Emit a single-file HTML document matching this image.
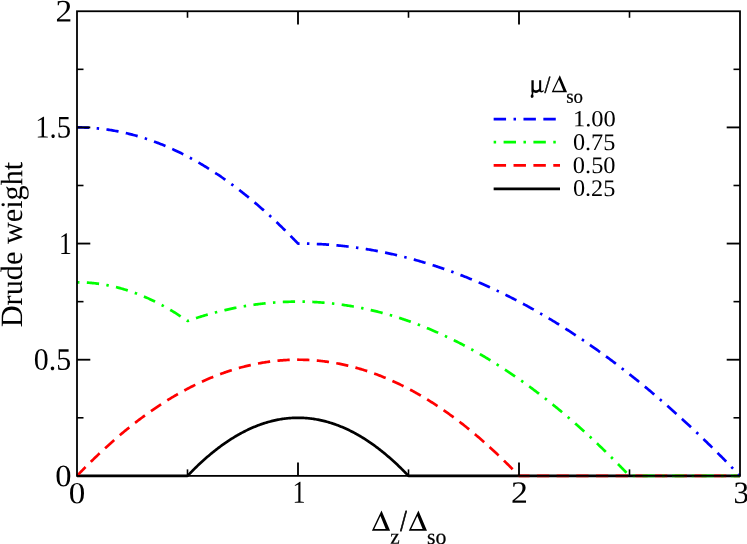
<!DOCTYPE html>
<html><head><meta charset="utf-8"><title>Drude weight</title>
<style>
html,body{margin:0;padding:0;background:#fff;}
body{width:747px;height:544px;overflow:hidden;}
svg{display:block;will-change:transform;}
text{font-family:"Liberation Serif",serif;fill:#000;font-kerning:none;}
</style></head><body>
<svg width="747" height="544" viewBox="0 0 747 544">
<rect x="0" y="0" width="747" height="544" fill="#ffffff"/>

<g fill="none" stroke-width="2.70" stroke-linejoin="round" stroke-linecap="butt">
<path d="M77.00,475.88 L78.11,475.88 L79.21,475.88 L80.31,475.88 L81.42,475.88 L82.53,475.88 L83.63,475.88 L84.73,475.88 L85.84,475.88 L86.94,475.88 L88.05,475.88 L89.16,475.88 L90.26,475.88 L91.36,475.88 L92.47,475.88 L93.58,475.88 L94.68,475.88 L95.78,475.88 L96.89,475.88 L98.00,475.88 L99.10,475.88 L100.20,475.88 L101.31,475.88 L102.42,475.88 L103.52,475.88 L104.62,475.88 L105.73,475.88 L106.84,475.88 L107.94,475.88 L109.04,475.88 L110.15,475.88 L111.25,475.88 L112.36,475.88 L113.47,475.88 L114.57,475.88 L115.68,475.88 L116.78,475.88 L117.88,475.88 L118.99,475.88 L120.09,475.88 L121.20,475.88 L122.31,475.88 L123.41,475.88 L124.51,475.88 L125.62,475.88 L126.72,475.88 L127.83,475.88 L128.94,475.88 L130.04,475.88 L131.15,475.88 L132.25,475.88 L133.35,475.88 L134.46,475.88 L135.56,475.88 L136.67,475.88 L137.78,475.88 L138.88,475.88 L139.99,475.88 L141.09,475.88 L142.19,475.88 L143.30,475.88 L144.41,475.88 L145.51,475.88 L146.62,475.88 L147.72,475.88 L148.82,475.88 L149.93,475.88 L151.04,475.88 L152.14,475.88 L153.25,475.88 L154.35,475.88 L155.45,475.88 L156.56,475.88 L157.67,475.88 L158.77,475.88 L159.88,475.88 L160.98,475.88 L162.08,475.88 L163.19,475.88 L164.30,475.88 L165.40,475.88 L166.50,475.88 L167.61,475.88 L168.72,475.88 L169.82,475.88 L170.93,475.88 L172.03,475.88 L173.13,475.88 L174.24,475.88 L175.35,475.88 L176.45,475.88 L177.56,475.88 L178.66,475.88 L179.76,475.88 L180.87,475.88 L181.98,475.88 L183.08,475.88 L184.19,475.88 L185.29,475.88 L186.39,475.88 L187.50,475.88 L188.61,474.72 L189.71,473.58 L190.81,472.45 L191.92,471.33 L193.02,470.22 L194.13,469.12 L195.24,468.03 L196.34,466.96 L197.44,465.90 L198.55,464.85 L199.66,463.81 L200.76,462.78 L201.87,461.76 L202.97,460.76 L204.07,459.76 L205.18,458.78 L206.28,457.81 L207.39,456.85 L208.49,455.91 L209.60,454.97 L210.71,454.05 L211.81,453.14 L212.91,452.24 L214.02,451.35 L215.12,450.47 L216.23,449.61 L217.34,448.75 L218.44,447.91 L219.54,447.08 L220.65,446.26 L221.76,445.45 L222.86,444.66 L223.97,443.87 L225.07,443.10 L226.18,442.34 L227.28,441.59 L228.39,440.85 L229.49,440.13 L230.59,439.41 L231.70,438.71 L232.80,438.02 L233.91,437.34 L235.01,436.67 L236.12,436.01 L237.22,435.37 L238.33,434.74 L239.44,434.12 L240.54,433.51 L241.65,432.91 L242.75,432.32 L243.85,431.75 L244.96,431.18 L246.06,430.63 L247.17,430.09 L248.28,429.56 L249.38,429.05 L250.49,428.54 L251.59,428.05 L252.70,427.56 L253.80,427.09 L254.91,426.64 L256.01,426.19 L257.12,425.75 L258.22,425.33 L259.33,424.92 L260.43,424.52 L261.53,424.13 L262.64,423.75 L263.75,423.38 L264.85,423.03 L265.96,422.69 L267.06,422.35 L268.16,422.04 L269.27,421.73 L270.38,421.43 L271.48,421.15 L272.59,420.87 L273.69,420.61 L274.79,420.36 L275.90,420.12 L277.00,419.90 L278.11,419.68 L279.22,419.48 L280.32,419.29 L281.42,419.11 L282.53,418.94 L283.63,418.78 L284.74,418.64 L285.85,418.50 L286.95,418.38 L288.06,418.27 L289.16,418.17 L290.26,418.09 L291.37,418.01 L292.48,417.95 L293.58,417.89 L294.68,417.85 L295.79,417.82 L296.89,417.81 L298.00,417.80 L299.11,417.81 L300.21,417.82 L301.32,417.85 L302.42,417.89 L303.52,417.95 L304.63,418.01 L305.74,418.09 L306.84,418.17 L307.94,418.27 L309.05,418.38 L310.15,418.50 L311.26,418.64 L312.37,418.78 L313.47,418.94 L314.58,419.11 L315.68,419.29 L316.78,419.48 L317.89,419.68 L319.00,419.90 L320.10,420.12 L321.21,420.36 L322.31,420.61 L323.41,420.87 L324.52,421.15 L325.62,421.43 L326.73,421.73 L327.84,422.04 L328.94,422.35 L330.04,422.69 L331.15,423.03 L332.25,423.38 L333.36,423.75 L334.46,424.13 L335.57,424.52 L336.68,424.92 L337.78,425.33 L338.89,425.75 L339.99,426.19 L341.10,426.64 L342.20,427.09 L343.31,427.56 L344.41,428.05 L345.52,428.54 L346.62,429.05 L347.73,429.56 L348.83,430.09 L349.94,430.63 L351.04,431.18 L352.15,431.75 L353.25,432.32 L354.36,432.91 L355.46,433.51 L356.56,434.12 L357.67,434.74 L358.78,435.37 L359.88,436.01 L360.98,436.67 L362.09,437.34 L363.19,438.02 L364.30,438.71 L365.40,439.41 L366.51,440.13 L367.61,440.85 L368.72,441.59 L369.82,442.34 L370.93,443.10 L372.04,443.87 L373.14,444.66 L374.25,445.45 L375.35,446.26 L376.45,447.08 L377.56,447.91 L378.67,448.75 L379.77,449.61 L380.88,450.47 L381.98,451.35 L383.08,452.24 L384.19,453.14 L385.30,454.05 L386.40,454.97 L387.50,455.91 L388.61,456.85 L389.71,457.81 L390.82,458.78 L391.93,459.76 L393.03,460.76 L394.14,461.76 L395.24,462.78 L396.35,463.81 L397.45,464.85 L398.56,465.90 L399.66,466.96 L400.77,468.03 L401.87,469.12 L402.98,470.22 L404.08,471.33 L405.19,472.45 L406.29,473.58 L407.40,474.72 L408.50,475.88 L409.61,475.88 L410.71,475.88 L411.81,475.88 L412.92,475.88 L414.03,475.88 L415.13,475.88 L416.24,475.88 L417.34,475.88 L418.44,475.88 L419.55,475.88 L420.65,475.88 L421.76,475.88 L422.87,475.88 L423.97,475.88 L425.07,475.88 L426.18,475.88 L427.29,475.88 L428.39,475.88 L429.49,475.88 L430.60,475.88 L431.70,475.88 L432.81,475.88 L433.91,475.88 L435.02,475.88 L436.12,475.88 L437.23,475.88 L438.34,475.88 L439.44,475.88 L440.55,475.88 L441.65,475.88 L442.76,475.88 L443.86,475.88 L444.96,475.88 L446.07,475.88 L447.18,475.88 L448.28,475.88 L449.38,475.88 L450.49,475.88 L451.60,475.88 L452.70,475.88 L453.81,475.88 L454.91,475.88 L456.02,475.88 L457.12,475.88 L458.22,475.88 L459.33,475.88 L460.44,475.88 L461.54,475.88 L462.65,475.88 L463.75,475.88 L464.86,475.88 L465.96,475.88 L467.07,475.88 L468.17,475.88 L469.28,475.88 L470.38,475.88 L471.49,475.88 L472.59,475.88 L473.69,475.88 L474.80,475.88 L475.90,475.88 L477.01,475.88 L478.12,475.88 L479.22,475.88 L480.32,475.88 L481.43,475.88 L482.54,475.88 L483.64,475.88 L484.74,475.88 L485.85,475.88 L486.95,475.88 L488.06,475.88 L489.16,475.88 L490.27,475.88 L491.38,475.88 L492.48,475.88 L493.59,475.88 L494.69,475.88 L495.80,475.88 L496.90,475.88 L498.01,475.88 L499.11,475.88 L500.21,475.88 L501.32,475.88 L502.43,475.88 L503.53,475.88 L504.63,475.88 L505.74,475.88 L506.85,475.88 L507.95,475.88 L509.06,475.88 L510.16,475.88 L511.27,475.88 L512.37,475.88 L513.47,475.88 L514.58,475.88 L515.68,475.88 L516.79,475.88 L517.89,475.88 L519.00,475.88 L520.11,475.88 L521.21,475.88 L522.32,475.88 L523.42,475.88 L524.53,475.88 L525.63,475.88 L526.74,475.88 L527.84,475.88 L528.94,475.88 L530.05,475.88 L531.15,475.88 L532.26,475.88 L533.37,475.88 L534.47,475.88 L535.58,475.88 L536.68,475.88 L537.79,475.88 L538.89,475.88 L540.00,475.88 L541.10,475.88 L542.20,475.88 L543.31,475.88 L544.41,475.88 L545.52,475.88 L546.62,475.88 L547.73,475.88 L548.84,475.88 L549.94,475.88 L551.05,475.88 L552.15,475.88 L553.26,475.88 L554.36,475.88 L555.46,475.88 L556.57,475.88 L557.67,475.88 L558.78,475.88 L559.88,475.88 L560.99,475.88 L562.10,475.88 L563.20,475.88 L564.31,475.88 L565.41,475.88 L566.51,475.88 L567.62,475.88 L568.72,475.88 L569.83,475.88 L570.93,475.88 L572.04,475.88 L573.14,475.88 L574.25,475.88 L575.36,475.88 L576.46,475.88 L577.57,475.88 L578.67,475.88 L579.78,475.88 L580.88,475.88 L581.99,475.88 L583.09,475.88 L584.19,475.88 L585.30,475.88 L586.40,475.88 L587.51,475.88 L588.62,475.88 L589.72,475.88 L590.83,475.88 L591.93,475.88 L593.03,475.88 L594.14,475.88 L595.25,475.88 L596.35,475.88 L597.46,475.88 L598.56,475.88 L599.67,475.88 L600.77,475.88 L601.88,475.88 L602.98,475.88 L604.09,475.88 L605.19,475.88 L606.29,475.88 L607.40,475.88 L608.50,475.88 L609.61,475.88 L610.72,475.88 L611.82,475.88 L612.93,475.88 L614.03,475.88 L615.13,475.88 L616.24,475.88 L617.34,475.88 L618.45,475.88 L619.55,475.88 L620.66,475.88 L621.76,475.88 L622.87,475.88 L623.98,475.88 L625.08,475.88 L626.18,475.88 L627.29,475.88 L628.40,475.88 L629.50,475.88 L630.60,475.88 L631.71,475.88 L632.82,475.88 L633.92,475.88 L635.02,475.88 L636.13,475.88 L637.24,475.88 L638.34,475.88 L639.45,475.88 L640.55,475.88 L641.66,475.88 L642.76,475.88 L643.87,475.88 L644.97,475.88 L646.08,475.88 L647.18,475.88 L648.28,475.88 L649.39,475.88 L650.50,475.88 L651.60,475.88 L652.71,475.88 L653.81,475.88 L654.92,475.88 L656.02,475.88 L657.12,475.88 L658.23,475.88 L659.34,475.88 L660.44,475.88 L661.54,475.88 L662.65,475.88 L663.75,475.88 L664.86,475.88 L665.97,475.88 L667.07,475.88 L668.18,475.88 L669.28,475.88 L670.38,475.88 L671.49,475.88 L672.59,475.88 L673.70,475.88 L674.80,475.88 L675.91,475.88 L677.01,475.88 L678.12,475.88 L679.23,475.88 L680.33,475.88 L681.43,475.88 L682.54,475.88 L683.65,475.88 L684.75,475.88 L685.85,475.88 L686.96,475.88 L688.07,475.88 L689.17,475.88 L690.27,475.88 L691.38,475.88 L692.49,475.88 L693.59,475.88 L694.70,475.88 L695.80,475.88 L696.91,475.88 L698.01,475.88 L699.12,475.88 L700.22,475.88 L701.33,475.88 L702.43,475.88 L703.53,475.88 L704.64,475.88 L705.75,475.88 L706.85,475.88 L707.96,475.88 L709.06,475.88 L710.17,475.88 L711.27,475.88 L712.38,475.88 L713.48,475.88 L714.59,475.88 L715.69,475.88 L716.79,475.88 L717.90,475.88 L719.00,475.88 L720.11,475.88 L721.22,475.88 L722.32,475.88 L723.43,475.88 L724.53,475.88 L725.63,475.88 L726.74,475.88 L727.84,475.88 L728.95,475.88 L730.05,475.88 L731.16,475.88 L732.26,475.88 L733.37,475.88 L734.48,475.88 L735.58,475.88 L736.68,475.88 L737.79,475.88 L738.90,475.88 L740.00,475.88" stroke="#000000"/>
<path d="M77.00,475.88 L78.11,474.72 L79.21,473.57 L80.31,472.42 L81.42,471.28 L82.53,470.14 L83.63,469.02 L84.73,467.89 L85.84,466.77 L86.94,465.66 L88.05,464.55 L89.16,463.45 L90.26,462.36 L91.36,461.27 L92.47,460.19 L93.58,459.11 L94.68,458.04 L95.78,456.97 L96.89,455.91 L98.00,454.86 L99.10,453.81 L100.20,452.77 L101.31,451.73 L102.42,450.70 L103.52,449.67 L104.62,448.66 L105.73,447.64 L106.84,446.63 L107.94,445.63 L109.04,444.64 L110.15,443.65 L111.25,442.66 L112.36,441.68 L113.47,440.71 L114.57,439.74 L115.68,438.78 L116.78,437.83 L117.88,436.88 L118.99,435.93 L120.09,435.00 L121.20,434.06 L122.31,433.14 L123.41,432.22 L124.51,431.30 L125.62,430.39 L126.72,429.49 L127.83,428.59 L128.94,427.70 L130.04,426.82 L131.15,425.94 L132.25,425.06 L133.35,424.19 L134.46,423.33 L135.56,422.47 L136.67,421.62 L137.78,420.78 L138.88,419.94 L139.99,419.11 L141.09,418.28 L142.19,417.46 L143.30,416.64 L144.41,415.83 L145.51,415.03 L146.62,414.23 L147.72,413.43 L148.82,412.65 L149.93,411.87 L151.04,411.09 L152.14,410.32 L153.25,409.56 L154.35,408.80 L155.45,408.05 L156.56,407.30 L157.67,406.56 L158.77,405.83 L159.88,405.10 L160.98,404.37 L162.08,403.66 L163.19,402.94 L164.30,402.24 L165.40,401.54 L166.50,400.85 L167.61,400.16 L168.72,399.47 L169.82,398.80 L170.93,398.13 L172.03,397.46 L173.13,396.80 L174.24,396.15 L175.35,395.50 L176.45,394.86 L177.56,394.22 L178.66,393.59 L179.76,392.97 L180.87,392.35 L181.98,391.74 L183.08,391.13 L184.19,390.53 L185.29,389.94 L186.39,389.35 L187.50,388.76 L188.61,388.18 L189.71,387.61 L190.81,387.05 L191.92,386.49 L193.02,385.93 L194.13,385.38 L195.24,384.84 L196.34,384.30 L197.44,383.77 L198.55,383.24 L199.66,382.72 L200.76,382.21 L201.87,381.70 L202.97,381.20 L204.07,380.70 L205.18,380.21 L206.28,379.73 L207.39,379.25 L208.49,378.78 L209.60,378.31 L210.71,377.85 L211.81,377.39 L212.91,376.94 L214.02,376.50 L215.12,376.06 L216.23,375.62 L217.34,375.20 L218.44,374.78 L219.54,374.36 L220.65,373.95 L221.76,373.55 L222.86,373.15 L223.97,372.76 L225.07,372.37 L226.18,371.99 L227.28,371.62 L228.39,371.25 L229.49,370.89 L230.59,370.53 L231.70,370.18 L232.80,369.83 L233.91,369.49 L235.01,369.16 L236.12,368.83 L237.22,368.51 L238.33,368.19 L239.44,367.88 L240.54,367.57 L241.65,367.28 L242.75,366.98 L243.85,366.69 L244.96,366.41 L246.06,366.14 L247.17,365.87 L248.28,365.60 L249.38,365.34 L250.49,365.09 L251.59,364.85 L252.70,364.60 L253.80,364.37 L254.91,364.14 L256.01,363.92 L257.12,363.70 L258.22,363.49 L259.33,363.28 L260.43,363.08 L261.53,362.88 L262.64,362.70 L263.75,362.51 L264.85,362.34 L265.96,362.16 L267.06,362.00 L268.16,361.84 L269.27,361.69 L270.38,361.54 L271.48,361.40 L272.59,361.26 L273.69,361.13 L274.79,361.00 L275.90,360.88 L277.00,360.77 L278.11,360.66 L279.22,360.56 L280.32,360.47 L281.42,360.38 L282.53,360.29 L283.63,360.21 L284.74,360.14 L285.85,360.07 L286.95,360.01 L288.06,359.96 L289.16,359.91 L290.26,359.86 L291.37,359.83 L292.48,359.80 L293.58,359.77 L294.68,359.75 L295.79,359.73 L296.89,359.73 L298.00,359.72 L299.11,359.73 L300.21,359.73 L301.32,359.75 L302.42,359.77 L303.52,359.80 L304.63,359.83 L305.74,359.86 L306.84,359.91 L307.94,359.96 L309.05,360.01 L310.15,360.07 L311.26,360.14 L312.37,360.21 L313.47,360.29 L314.58,360.38 L315.68,360.47 L316.78,360.56 L317.89,360.66 L319.00,360.77 L320.10,360.88 L321.21,361.00 L322.31,361.13 L323.41,361.26 L324.52,361.40 L325.62,361.54 L326.73,361.69 L327.84,361.84 L328.94,362.00 L330.04,362.16 L331.15,362.34 L332.25,362.51 L333.36,362.70 L334.46,362.88 L335.57,363.08 L336.68,363.28 L337.78,363.49 L338.89,363.70 L339.99,363.92 L341.10,364.14 L342.20,364.37 L343.31,364.60 L344.41,364.85 L345.52,365.09 L346.62,365.34 L347.73,365.60 L348.83,365.87 L349.94,366.14 L351.04,366.41 L352.15,366.69 L353.25,366.98 L354.36,367.28 L355.46,367.57 L356.56,367.88 L357.67,368.19 L358.78,368.51 L359.88,368.83 L360.98,369.16 L362.09,369.49 L363.19,369.83 L364.30,370.18 L365.40,370.53 L366.51,370.89 L367.61,371.25 L368.72,371.62 L369.82,371.99 L370.93,372.37 L372.04,372.76 L373.14,373.15 L374.25,373.55 L375.35,373.95 L376.45,374.36 L377.56,374.78 L378.67,375.20 L379.77,375.62 L380.88,376.06 L381.98,376.50 L383.08,376.94 L384.19,377.39 L385.30,377.85 L386.40,378.31 L387.50,378.78 L388.61,379.25 L389.71,379.73 L390.82,380.21 L391.93,380.70 L393.03,381.20 L394.14,381.70 L395.24,382.21 L396.35,382.72 L397.45,383.24 L398.56,383.77 L399.66,384.30 L400.77,384.84 L401.87,385.38 L402.98,385.93 L404.08,386.49 L405.19,387.05 L406.29,387.61 L407.40,388.18 L408.50,388.76 L409.61,389.35 L410.71,389.94 L411.81,390.53 L412.92,391.13 L414.03,391.74 L415.13,392.35 L416.24,392.97 L417.34,393.59 L418.44,394.22 L419.55,394.86 L420.65,395.50 L421.76,396.15 L422.87,396.80 L423.97,397.46 L425.07,398.13 L426.18,398.80 L427.29,399.47 L428.39,400.16 L429.49,400.85 L430.60,401.54 L431.70,402.24 L432.81,402.94 L433.91,403.66 L435.02,404.37 L436.12,405.10 L437.23,405.83 L438.34,406.56 L439.44,407.30 L440.55,408.05 L441.65,408.80 L442.76,409.56 L443.86,410.32 L444.96,411.09 L446.07,411.87 L447.18,412.65 L448.28,413.43 L449.38,414.23 L450.49,415.03 L451.60,415.83 L452.70,416.64 L453.81,417.46 L454.91,418.28 L456.02,419.11 L457.12,419.94 L458.22,420.78 L459.33,421.62 L460.44,422.47 L461.54,423.33 L462.65,424.19 L463.75,425.06 L464.86,425.94 L465.96,426.82 L467.07,427.70 L468.17,428.59 L469.28,429.49 L470.38,430.39 L471.49,431.30 L472.59,432.22 L473.69,433.14 L474.80,434.06 L475.90,435.00 L477.01,435.93 L478.12,436.88 L479.22,437.83 L480.32,438.78 L481.43,439.74 L482.54,440.71 L483.64,441.68 L484.74,442.66 L485.85,443.65 L486.95,444.64 L488.06,445.63 L489.16,446.63 L490.27,447.64 L491.38,448.66 L492.48,449.67 L493.59,450.70 L494.69,451.73 L495.80,452.77 L496.90,453.81 L498.01,454.86 L499.11,455.91 L500.21,456.97 L501.32,458.04 L502.43,459.11 L503.53,460.19 L504.63,461.27 L505.74,462.36 L506.85,463.45 L507.95,464.55 L509.06,465.66 L510.16,466.77 L511.27,467.89 L512.37,469.02 L513.47,470.14 L514.58,471.28 L515.68,472.42 L516.79,473.57 L517.89,474.72 L519.00,475.88 L520.11,475.88 L521.21,475.88 L522.32,475.88 L523.42,475.88 L524.53,475.88 L525.63,475.88 L526.74,475.88 L527.84,475.88 L528.94,475.88 L530.05,475.88 L531.15,475.88 L532.26,475.88 L533.37,475.88 L534.47,475.88 L535.58,475.88 L536.68,475.88 L537.79,475.88 L538.89,475.88 L540.00,475.88 L541.10,475.88 L542.20,475.88 L543.31,475.88 L544.41,475.88 L545.52,475.88 L546.62,475.88 L547.73,475.88 L548.84,475.88 L549.94,475.88 L551.05,475.88 L552.15,475.88 L553.26,475.88 L554.36,475.88 L555.46,475.88 L556.57,475.88 L557.67,475.88 L558.78,475.88 L559.88,475.88 L560.99,475.88 L562.10,475.88 L563.20,475.88 L564.31,475.88 L565.41,475.88 L566.51,475.88 L567.62,475.88 L568.72,475.88 L569.83,475.88 L570.93,475.88 L572.04,475.88 L573.14,475.88 L574.25,475.88 L575.36,475.88 L576.46,475.88 L577.57,475.88 L578.67,475.88 L579.78,475.88 L580.88,475.88 L581.99,475.88 L583.09,475.88 L584.19,475.88 L585.30,475.88 L586.40,475.88 L587.51,475.88 L588.62,475.88 L589.72,475.88 L590.83,475.88 L591.93,475.88 L593.03,475.88 L594.14,475.88 L595.25,475.88 L596.35,475.88 L597.46,475.88 L598.56,475.88 L599.67,475.88 L600.77,475.88 L601.88,475.88 L602.98,475.88 L604.09,475.88 L605.19,475.88 L606.29,475.88 L607.40,475.88 L608.50,475.88 L609.61,475.88 L610.72,475.88 L611.82,475.88 L612.93,475.88 L614.03,475.88 L615.13,475.88 L616.24,475.88 L617.34,475.88 L618.45,475.88 L619.55,475.88 L620.66,475.88 L621.76,475.88 L622.87,475.88 L623.98,475.88 L625.08,475.88 L626.18,475.88 L627.29,475.88 L628.40,475.88 L629.50,475.88 L630.60,475.88 L631.71,475.88 L632.82,475.88 L633.92,475.88 L635.02,475.88 L636.13,475.88 L637.24,475.88 L638.34,475.88 L639.45,475.88 L640.55,475.88 L641.66,475.88 L642.76,475.88 L643.87,475.88 L644.97,475.88 L646.08,475.88 L647.18,475.88 L648.28,475.88 L649.39,475.88 L650.50,475.88 L651.60,475.88 L652.71,475.88 L653.81,475.88 L654.92,475.88 L656.02,475.88 L657.12,475.88 L658.23,475.88 L659.34,475.88 L660.44,475.88 L661.54,475.88 L662.65,475.88 L663.75,475.88 L664.86,475.88 L665.97,475.88 L667.07,475.88 L668.18,475.88 L669.28,475.88 L670.38,475.88 L671.49,475.88 L672.59,475.88 L673.70,475.88 L674.80,475.88 L675.91,475.88 L677.01,475.88 L678.12,475.88 L679.23,475.88 L680.33,475.88 L681.43,475.88 L682.54,475.88 L683.65,475.88 L684.75,475.88 L685.85,475.88 L686.96,475.88 L688.07,475.88 L689.17,475.88 L690.27,475.88 L691.38,475.88 L692.49,475.88 L693.59,475.88 L694.70,475.88 L695.80,475.88 L696.91,475.88 L698.01,475.88 L699.12,475.88 L700.22,475.88 L701.33,475.88 L702.43,475.88 L703.53,475.88 L704.64,475.88 L705.75,475.88 L706.85,475.88 L707.96,475.88 L709.06,475.88 L710.17,475.88 L711.27,475.88 L712.38,475.88 L713.48,475.88 L714.59,475.88 L715.69,475.88 L716.79,475.88 L717.90,475.88 L719.00,475.88 L720.11,475.88 L721.22,475.88 L722.32,475.88 L723.43,475.88 L724.53,475.88 L725.63,475.88 L726.74,475.88 L727.84,475.88 L728.95,475.88 L730.05,475.88 L731.16,475.88 L732.26,475.88 L733.37,475.88 L734.48,475.88 L735.58,475.88 L736.68,475.88 L737.79,475.88 L738.90,475.88 L740.00,475.88" stroke="#ff0000" stroke-dasharray="12.30,7.38"/>
<path d="M77.00,282.28 L78.11,282.29 L79.21,282.30 L80.31,282.32 L81.42,282.35 L82.53,282.38 L83.63,282.42 L84.73,282.47 L85.84,282.53 L86.94,282.60 L88.05,282.67 L89.16,282.75 L90.26,282.84 L91.36,282.94 L92.47,283.04 L93.58,283.16 L94.68,283.28 L95.78,283.40 L96.89,283.54 L98.00,283.68 L99.10,283.83 L100.20,283.99 L101.31,284.16 L102.42,284.33 L103.52,284.51 L104.62,284.70 L105.73,284.90 L106.84,285.11 L107.94,285.32 L109.04,285.54 L110.15,285.77 L111.25,286.01 L112.36,286.25 L113.47,286.50 L114.57,286.76 L115.68,287.03 L116.78,287.30 L117.88,287.58 L118.99,287.88 L120.09,288.17 L121.20,288.48 L122.31,288.79 L123.41,289.11 L124.51,289.44 L125.62,289.78 L126.72,290.12 L127.83,290.48 L128.94,290.84 L130.04,291.21 L131.15,291.58 L132.25,291.96 L133.35,292.36 L134.46,292.75 L135.56,293.16 L136.67,293.57 L137.78,294.00 L138.88,294.43 L139.99,294.86 L141.09,295.31 L142.19,295.76 L143.30,296.22 L144.41,296.69 L145.51,297.17 L146.62,297.65 L147.72,298.14 L148.82,298.64 L149.93,299.15 L151.04,299.67 L152.14,300.19 L153.25,300.72 L154.35,301.26 L155.45,301.80 L156.56,302.36 L157.67,302.92 L158.77,303.49 L159.88,304.06 L160.98,304.65 L162.08,305.24 L163.19,305.84 L164.30,306.45 L165.40,307.06 L166.50,307.69 L167.61,308.32 L168.72,308.96 L169.82,309.60 L170.93,310.26 L172.03,310.92 L173.13,311.59 L174.24,312.27 L175.35,312.95 L176.45,313.65 L177.56,314.35 L178.66,315.06 L179.76,315.77 L180.87,316.50 L181.98,317.23 L183.08,317.97 L184.19,318.72 L185.29,319.47 L186.39,320.23 L187.50,321.00 L188.61,320.62 L189.71,320.24 L190.81,319.86 L191.92,319.49 L193.02,319.12 L194.13,318.75 L195.24,318.39 L196.34,318.03 L197.44,317.68 L198.55,317.33 L199.66,316.98 L200.76,316.64 L201.87,316.30 L202.97,315.96 L204.07,315.63 L205.18,315.30 L206.28,314.98 L207.39,314.66 L208.49,314.35 L209.60,314.03 L210.71,313.73 L211.81,313.42 L212.91,313.12 L214.02,312.83 L215.12,312.53 L216.23,312.25 L217.34,311.96 L218.44,311.68 L219.54,311.40 L220.65,311.13 L221.76,310.86 L222.86,310.60 L223.97,310.33 L225.07,310.08 L226.18,309.82 L227.28,309.57 L228.39,309.33 L229.49,309.09 L230.59,308.85 L231.70,308.61 L232.80,308.38 L233.91,308.16 L235.01,307.93 L236.12,307.71 L237.22,307.50 L238.33,307.29 L239.44,307.08 L240.54,306.88 L241.65,306.68 L242.75,306.48 L243.85,306.29 L244.96,306.10 L246.06,305.92 L247.17,305.74 L248.28,305.56 L249.38,305.39 L250.49,305.22 L251.59,305.06 L252.70,304.90 L253.80,304.74 L254.91,304.59 L256.01,304.44 L257.12,304.29 L258.22,304.15 L259.33,304.02 L260.43,303.88 L261.53,303.75 L262.64,303.63 L263.75,303.50 L264.85,303.39 L265.96,303.27 L267.06,303.16 L268.16,303.06 L269.27,302.95 L270.38,302.85 L271.48,302.76 L272.59,302.67 L273.69,302.58 L274.79,302.50 L275.90,302.42 L277.00,302.34 L278.11,302.27 L279.22,302.20 L280.32,302.14 L281.42,302.08 L282.53,302.02 L283.63,301.97 L284.74,301.92 L285.85,301.88 L286.95,301.84 L288.06,301.80 L289.16,301.77 L290.26,301.74 L291.37,301.71 L292.48,301.69 L293.58,301.67 L294.68,301.66 L295.79,301.65 L296.89,301.65 L298.00,301.64 L299.11,301.65 L300.21,301.65 L301.32,301.66 L302.42,301.67 L303.52,301.69 L304.63,301.71 L305.74,301.74 L306.84,301.77 L307.94,301.80 L309.05,301.84 L310.15,301.88 L311.26,301.92 L312.37,301.97 L313.47,302.02 L314.58,302.08 L315.68,302.14 L316.78,302.20 L317.89,302.27 L319.00,302.34 L320.10,302.42 L321.21,302.50 L322.31,302.58 L323.41,302.67 L324.52,302.76 L325.62,302.85 L326.73,302.95 L327.84,303.06 L328.94,303.16 L330.04,303.27 L331.15,303.39 L332.25,303.50 L333.36,303.63 L334.46,303.75 L335.57,303.88 L336.68,304.02 L337.78,304.15 L338.89,304.29 L339.99,304.44 L341.10,304.59 L342.20,304.74 L343.31,304.90 L344.41,305.06 L345.52,305.22 L346.62,305.39 L347.73,305.56 L348.83,305.74 L349.94,305.92 L351.04,306.10 L352.15,306.29 L353.25,306.48 L354.36,306.68 L355.46,306.88 L356.56,307.08 L357.67,307.29 L358.78,307.50 L359.88,307.71 L360.98,307.93 L362.09,308.16 L363.19,308.38 L364.30,308.61 L365.40,308.85 L366.51,309.09 L367.61,309.33 L368.72,309.57 L369.82,309.82 L370.93,310.08 L372.04,310.33 L373.14,310.60 L374.25,310.86 L375.35,311.13 L376.45,311.40 L377.56,311.68 L378.67,311.96 L379.77,312.25 L380.88,312.53 L381.98,312.83 L383.08,313.12 L384.19,313.42 L385.30,313.73 L386.40,314.03 L387.50,314.35 L388.61,314.66 L389.71,314.98 L390.82,315.30 L391.93,315.63 L393.03,315.96 L394.14,316.30 L395.24,316.64 L396.35,316.98 L397.45,317.33 L398.56,317.68 L399.66,318.03 L400.77,318.39 L401.87,318.75 L402.98,319.12 L404.08,319.49 L405.19,319.86 L406.29,320.24 L407.40,320.62 L408.50,321.00 L409.61,321.39 L410.71,321.79 L411.81,322.18 L412.92,322.58 L414.03,322.99 L415.13,323.40 L416.24,323.81 L417.34,324.22 L418.44,324.64 L419.55,325.07 L420.65,325.50 L421.76,325.93 L422.87,326.36 L423.97,326.80 L425.07,327.25 L426.18,327.69 L427.29,328.15 L428.39,328.60 L429.49,329.06 L430.60,329.52 L431.70,329.99 L432.81,330.46 L433.91,330.93 L435.02,331.41 L436.12,331.89 L437.23,332.38 L438.34,332.87 L439.44,333.36 L440.55,333.86 L441.65,334.36 L442.76,334.87 L443.86,335.38 L444.96,335.89 L446.07,336.41 L447.18,336.93 L448.28,337.45 L449.38,337.98 L450.49,338.51 L451.60,339.05 L452.70,339.59 L453.81,340.13 L454.91,340.68 L456.02,341.23 L457.12,341.79 L458.22,342.35 L459.33,342.91 L460.44,343.48 L461.54,344.05 L462.65,344.62 L463.75,345.20 L464.86,345.79 L465.96,346.37 L467.07,346.96 L468.17,347.56 L469.28,348.16 L470.38,348.76 L471.49,349.36 L472.59,349.97 L473.69,350.59 L474.80,351.20 L475.90,351.83 L477.01,352.45 L478.12,353.08 L479.22,353.71 L480.32,354.35 L481.43,354.99 L482.54,355.64 L483.64,356.28 L484.74,356.94 L485.85,357.59 L486.95,358.25 L488.06,358.92 L489.16,359.59 L490.27,360.26 L491.38,360.93 L492.48,361.61 L493.59,362.30 L494.69,362.98 L495.80,363.67 L496.90,364.37 L498.01,365.07 L499.11,365.77 L500.21,366.48 L501.32,367.19 L502.43,367.90 L503.53,368.62 L504.63,369.34 L505.74,370.07 L506.85,370.80 L507.95,371.53 L509.06,372.27 L510.16,373.01 L511.27,373.76 L512.37,374.51 L513.47,375.26 L514.58,376.02 L515.68,376.78 L516.79,377.54 L517.89,378.31 L519.00,379.08 L520.11,379.86 L521.21,380.64 L522.32,381.42 L523.42,382.21 L524.53,383.00 L525.63,383.80 L526.74,384.60 L527.84,385.40 L528.94,386.21 L530.05,387.02 L531.15,387.83 L532.26,388.65 L533.37,389.48 L534.47,390.30 L535.58,391.13 L536.68,391.97 L537.79,392.81 L538.89,393.65 L540.00,394.49 L541.10,395.34 L542.20,396.20 L543.31,397.06 L544.41,397.92 L545.52,398.78 L546.62,399.65 L547.73,400.52 L548.84,401.40 L549.94,402.28 L551.05,403.17 L552.15,404.06 L553.26,404.95 L554.36,405.84 L555.46,406.74 L556.57,407.65 L557.67,408.56 L558.78,409.47 L559.88,410.38 L560.99,411.30 L562.10,412.23 L563.20,413.15 L564.31,414.09 L565.41,415.02 L566.51,415.96 L567.62,416.90 L568.72,417.85 L569.83,418.80 L570.93,419.75 L572.04,420.71 L573.14,421.68 L574.25,422.64 L575.36,423.61 L576.46,424.58 L577.57,425.56 L578.67,426.54 L579.78,427.53 L580.88,428.52 L581.99,429.51 L583.09,430.51 L584.19,431.51 L585.30,432.51 L586.40,433.52 L587.51,434.54 L588.62,435.55 L589.72,436.57 L590.83,437.60 L591.93,438.62 L593.03,439.66 L594.14,440.69 L595.25,441.73 L596.35,442.78 L597.46,443.82 L598.56,444.87 L599.67,445.93 L600.77,446.99 L601.88,448.05 L602.98,449.12 L604.09,450.19 L605.19,451.26 L606.29,452.34 L607.40,453.42 L608.50,454.51 L609.61,455.60 L610.72,456.69 L611.82,457.79 L612.93,458.89 L614.03,460.00 L615.13,461.11 L616.24,462.22 L617.34,463.34 L618.45,464.46 L619.55,465.58 L620.66,466.71 L621.76,467.84 L622.87,468.98 L623.98,470.12 L625.08,471.26 L626.18,472.41 L627.29,473.56 L628.40,474.72 L629.50,475.88 L630.60,475.88 L631.71,475.88 L632.82,475.88 L633.92,475.88 L635.02,475.88 L636.13,475.88 L637.24,475.88 L638.34,475.88 L639.45,475.88 L640.55,475.88 L641.66,475.88 L642.76,475.88 L643.87,475.88 L644.97,475.88 L646.08,475.88 L647.18,475.88 L648.28,475.88 L649.39,475.88 L650.50,475.88 L651.60,475.88 L652.71,475.88 L653.81,475.88 L654.92,475.88 L656.02,475.88 L657.12,475.88 L658.23,475.88 L659.34,475.88 L660.44,475.88 L661.54,475.88 L662.65,475.88 L663.75,475.88 L664.86,475.88 L665.97,475.88 L667.07,475.88 L668.18,475.88 L669.28,475.88 L670.38,475.88 L671.49,475.88 L672.59,475.88 L673.70,475.88 L674.80,475.88 L675.91,475.88 L677.01,475.88 L678.12,475.88 L679.23,475.88 L680.33,475.88 L681.43,475.88 L682.54,475.88 L683.65,475.88 L684.75,475.88 L685.85,475.88 L686.96,475.88 L688.07,475.88 L689.17,475.88 L690.27,475.88 L691.38,475.88 L692.49,475.88 L693.59,475.88 L694.70,475.88 L695.80,475.88 L696.91,475.88 L698.01,475.88 L699.12,475.88 L700.22,475.88 L701.33,475.88 L702.43,475.88 L703.53,475.88 L704.64,475.88 L705.75,475.88 L706.85,475.88 L707.96,475.88 L709.06,475.88 L710.17,475.88 L711.27,475.88 L712.38,475.88 L713.48,475.88 L714.59,475.88 L715.69,475.88 L716.79,475.88 L717.90,475.88 L719.00,475.88 L720.11,475.88 L721.22,475.88 L722.32,475.88 L723.43,475.88 L724.53,475.88 L725.63,475.88 L726.74,475.88 L727.84,475.88 L728.95,475.88 L730.05,475.88 L731.16,475.88 L732.26,475.88 L733.37,475.88 L734.48,475.88 L735.58,475.88 L736.68,475.88 L737.79,475.88 L738.90,475.88 L740.00,475.88" stroke="#00ff00" stroke-dasharray="2.46,7.38,12.30,7.38"/>
<path d="M77.00,127.41 L78.11,127.41 L79.21,127.42 L80.31,127.43 L81.42,127.45 L82.53,127.48 L83.63,127.51 L84.73,127.55 L85.84,127.59 L86.94,127.64 L88.05,127.70 L89.16,127.76 L90.26,127.83 L91.36,127.90 L92.47,127.98 L93.58,128.06 L94.68,128.15 L95.78,128.25 L96.89,128.35 L98.00,128.46 L99.10,128.57 L100.20,128.69 L101.31,128.81 L102.42,128.94 L103.52,129.08 L104.62,129.22 L105.73,129.37 L106.84,129.52 L107.94,129.68 L109.04,129.85 L110.15,130.02 L111.25,130.20 L112.36,130.38 L113.47,130.57 L114.57,130.76 L115.68,130.96 L116.78,131.17 L117.88,131.38 L118.99,131.60 L120.09,131.82 L121.20,132.05 L122.31,132.29 L123.41,132.53 L124.51,132.78 L125.62,133.03 L126.72,133.29 L127.83,133.55 L128.94,133.82 L130.04,134.10 L131.15,134.38 L132.25,134.67 L133.35,134.96 L134.46,135.26 L135.56,135.56 L136.67,135.88 L137.78,136.19 L138.88,136.51 L139.99,136.84 L141.09,137.18 L142.19,137.52 L143.30,137.86 L144.41,138.21 L145.51,138.57 L146.62,138.93 L147.72,139.30 L148.82,139.68 L149.93,140.06 L151.04,140.44 L152.14,140.84 L153.25,141.23 L154.35,141.64 L155.45,142.05 L156.56,142.46 L157.67,142.88 L158.77,143.31 L159.88,143.74 L160.98,144.18 L162.08,144.62 L163.19,145.08 L164.30,145.53 L165.40,145.99 L166.50,146.46 L167.61,146.93 L168.72,147.41 L169.82,147.90 L170.93,148.39 L172.03,148.89 L173.13,149.39 L174.24,149.90 L175.35,150.41 L176.45,150.93 L177.56,151.46 L178.66,151.99 L179.76,152.52 L180.87,153.07 L181.98,153.62 L183.08,154.17 L184.19,154.73 L185.29,155.30 L186.39,155.87 L187.50,156.45 L188.61,157.03 L189.71,157.62 L190.81,158.22 L191.92,158.82 L193.02,159.42 L194.13,160.04 L195.24,160.65 L196.34,161.28 L197.44,161.91 L198.55,162.55 L199.66,163.19 L200.76,163.83 L201.87,164.49 L202.97,165.15 L204.07,165.81 L205.18,166.48 L206.28,167.16 L207.39,167.84 L208.49,168.53 L209.60,169.22 L210.71,169.92 L211.81,170.63 L212.91,171.34 L214.02,172.06 L215.12,172.78 L216.23,173.51 L217.34,174.25 L218.44,174.99 L219.54,175.73 L220.65,176.48 L221.76,177.24 L222.86,178.01 L223.97,178.78 L225.07,179.55 L226.18,180.33 L227.28,181.12 L228.39,181.91 L229.49,182.71 L230.59,183.51 L231.70,184.32 L232.80,185.14 L233.91,185.96 L235.01,186.79 L236.12,187.62 L237.22,188.46 L238.33,189.31 L239.44,190.16 L240.54,191.02 L241.65,191.88 L242.75,192.75 L243.85,193.62 L244.96,194.50 L246.06,195.39 L247.17,196.28 L248.28,197.17 L249.38,198.08 L250.49,198.99 L251.59,199.90 L252.70,200.82 L253.80,201.75 L254.91,202.68 L256.01,203.62 L257.12,204.56 L258.22,205.51 L259.33,206.47 L260.43,207.43 L261.53,208.40 L262.64,209.37 L263.75,210.35 L264.85,211.33 L265.96,212.32 L267.06,213.32 L268.16,214.32 L269.27,215.33 L270.38,216.34 L271.48,217.36 L272.59,218.38 L273.69,219.42 L274.79,220.45 L275.90,221.50 L277.00,222.54 L278.11,223.60 L279.22,224.66 L280.32,225.72 L281.42,226.79 L282.53,227.87 L283.63,228.96 L284.74,230.04 L285.85,231.14 L286.95,232.24 L288.06,233.35 L289.16,234.46 L290.26,235.58 L291.37,236.70 L292.48,237.83 L293.58,238.97 L294.68,240.11 L295.79,241.25 L296.89,242.41 L298.00,243.56 L299.11,243.57 L300.21,243.57 L301.32,243.58 L302.42,243.59 L303.52,243.60 L304.63,243.62 L305.74,243.64 L306.84,243.66 L307.94,243.68 L309.05,243.71 L310.15,243.74 L311.26,243.77 L312.37,243.81 L313.47,243.85 L314.58,243.89 L315.68,243.94 L316.78,243.98 L317.89,244.04 L319.00,244.09 L320.10,244.15 L321.21,244.21 L322.31,244.27 L323.41,244.33 L324.52,244.40 L325.62,244.47 L326.73,244.55 L327.84,244.62 L328.94,244.70 L330.04,244.79 L331.15,244.87 L332.25,244.96 L333.36,245.05 L334.46,245.15 L335.57,245.24 L336.68,245.34 L337.78,245.45 L338.89,245.55 L339.99,245.66 L341.10,245.77 L342.20,245.89 L343.31,246.01 L344.41,246.13 L345.52,246.25 L346.62,246.38 L347.73,246.51 L348.83,246.64 L349.94,246.77 L351.04,246.91 L352.15,247.05 L353.25,247.19 L354.36,247.34 L355.46,247.49 L356.56,247.64 L357.67,247.80 L358.78,247.96 L359.88,248.12 L360.98,248.28 L362.09,248.45 L363.19,248.62 L364.30,248.79 L365.40,248.97 L366.51,249.15 L367.61,249.33 L368.72,249.51 L369.82,249.70 L370.93,249.89 L372.04,250.08 L373.14,250.28 L374.25,250.48 L375.35,250.68 L376.45,250.88 L377.56,251.09 L378.67,251.30 L379.77,251.52 L380.88,251.73 L381.98,251.95 L383.08,252.17 L384.19,252.40 L385.30,252.63 L386.40,252.86 L387.50,253.09 L388.61,253.33 L389.71,253.57 L390.82,253.81 L391.93,254.06 L393.03,254.30 L394.14,254.55 L395.24,254.81 L396.35,255.07 L397.45,255.33 L398.56,255.59 L399.66,255.85 L400.77,256.12 L401.87,256.39 L402.98,256.67 L404.08,256.95 L405.19,257.23 L406.29,257.51 L407.40,257.80 L408.50,258.08 L409.61,258.38 L410.71,258.67 L411.81,258.97 L412.92,259.27 L414.03,259.57 L415.13,259.88 L416.24,260.19 L417.34,260.50 L418.44,260.82 L419.55,261.13 L420.65,261.45 L421.76,261.78 L422.87,262.11 L423.97,262.43 L425.07,262.77 L426.18,263.10 L427.29,263.44 L428.39,263.78 L429.49,264.13 L430.60,264.47 L431.70,264.82 L432.81,265.18 L433.91,265.53 L435.02,265.89 L436.12,266.25 L437.23,266.62 L438.34,266.98 L439.44,267.35 L440.55,267.73 L441.65,268.10 L442.76,268.48 L443.86,268.86 L444.96,269.25 L446.07,269.64 L447.18,270.03 L448.28,270.42 L449.38,270.82 L450.49,271.22 L451.60,271.62 L452.70,272.02 L453.81,272.43 L454.91,272.84 L456.02,273.26 L457.12,273.67 L458.22,274.09 L459.33,274.52 L460.44,274.94 L461.54,275.37 L462.65,275.80 L463.75,276.23 L464.86,276.67 L465.96,277.11 L467.07,277.55 L468.17,278.00 L469.28,278.45 L470.38,278.90 L471.49,279.35 L472.59,279.81 L473.69,280.27 L474.80,280.74 L475.90,281.20 L477.01,281.67 L478.12,282.14 L479.22,282.62 L480.32,283.09 L481.43,283.58 L482.54,284.06 L483.64,284.55 L484.74,285.03 L485.85,285.53 L486.95,286.02 L488.06,286.52 L489.16,287.02 L490.27,287.52 L491.38,288.03 L492.48,288.54 L493.59,289.05 L494.69,289.57 L495.80,290.09 L496.90,290.61 L498.01,291.13 L499.11,291.66 L500.21,292.19 L501.32,292.72 L502.43,293.26 L503.53,293.80 L504.63,294.34 L505.74,294.88 L506.85,295.43 L507.95,295.98 L509.06,296.53 L510.16,297.09 L511.27,297.65 L512.37,298.21 L513.47,298.78 L514.58,299.34 L515.68,299.91 L516.79,300.49 L517.89,301.06 L519.00,301.64 L520.11,302.23 L521.21,302.81 L522.32,303.40 L523.42,303.99 L524.53,304.58 L525.63,305.18 L526.74,305.78 L527.84,306.38 L528.94,306.99 L530.05,307.60 L531.15,308.21 L532.26,308.82 L533.37,309.44 L534.47,310.06 L535.58,310.68 L536.68,311.31 L537.79,311.94 L538.89,312.57 L540.00,313.20 L541.10,313.84 L542.20,314.48 L543.31,315.12 L544.41,315.77 L545.52,316.42 L546.62,317.07 L547.73,317.73 L548.84,318.38 L549.94,319.04 L551.05,319.71 L552.15,320.37 L553.26,321.04 L554.36,321.72 L555.46,322.39 L556.57,323.07 L557.67,323.75 L558.78,324.43 L559.88,325.12 L560.99,325.81 L562.10,326.50 L563.20,327.20 L564.31,327.90 L565.41,328.60 L566.51,329.30 L567.62,330.01 L568.72,330.72 L569.83,331.43 L570.93,332.15 L572.04,332.87 L573.14,333.59 L574.25,334.31 L575.36,335.04 L576.46,335.77 L577.57,336.50 L578.67,337.24 L579.78,337.98 L580.88,338.72 L581.99,339.47 L583.09,340.21 L584.19,340.96 L585.30,341.72 L586.40,342.47 L587.51,343.23 L588.62,344.00 L589.72,344.76 L590.83,345.53 L591.93,346.30 L593.03,347.07 L594.14,347.85 L595.25,348.63 L596.35,349.41 L597.46,350.20 L598.56,350.99 L599.67,351.78 L600.77,352.57 L601.88,353.37 L602.98,354.17 L604.09,354.97 L605.19,355.78 L606.29,356.59 L607.40,357.40 L608.50,358.21 L609.61,359.03 L610.72,359.85 L611.82,360.67 L612.93,361.50 L614.03,362.33 L615.13,363.16 L616.24,364.00 L617.34,364.83 L618.45,365.68 L619.55,366.52 L620.66,367.37 L621.76,368.22 L622.87,369.07 L623.98,369.92 L625.08,370.78 L626.18,371.64 L627.29,372.51 L628.40,373.37 L629.50,374.24 L630.60,375.11 L631.71,375.99 L632.82,376.87 L633.92,377.75 L635.02,378.63 L636.13,379.52 L637.24,380.41 L638.34,381.30 L639.45,382.20 L640.55,383.10 L641.66,384.00 L642.76,384.91 L643.87,385.81 L644.97,386.72 L646.08,387.64 L647.18,388.55 L648.28,389.47 L649.39,390.39 L650.50,391.32 L651.60,392.25 L652.71,393.18 L653.81,394.11 L654.92,395.05 L656.02,395.99 L657.12,396.93 L658.23,397.87 L659.34,398.82 L660.44,399.77 L661.54,400.73 L662.65,401.68 L663.75,402.64 L664.86,403.61 L665.97,404.57 L667.07,405.54 L668.18,406.51 L669.28,407.49 L670.38,408.46 L671.49,409.44 L672.59,410.43 L673.70,411.41 L674.80,412.40 L675.91,413.39 L677.01,414.39 L678.12,415.39 L679.23,416.39 L680.33,417.39 L681.43,418.40 L682.54,419.40 L683.65,420.42 L684.75,421.43 L685.85,422.45 L686.96,423.47 L688.07,424.49 L689.17,425.52 L690.27,426.55 L691.38,427.58 L692.49,428.62 L693.59,429.66 L694.70,430.70 L695.80,431.74 L696.91,432.79 L698.01,433.84 L699.12,434.89 L700.22,435.95 L701.33,437.00 L702.43,438.06 L703.53,439.13 L704.64,440.20 L705.75,441.27 L706.85,442.34 L707.96,443.42 L709.06,444.49 L710.17,445.58 L711.27,446.66 L712.38,447.75 L713.48,448.84 L714.59,449.93 L715.69,451.03 L716.79,452.13 L717.90,453.23 L719.00,454.33 L720.11,455.44 L721.22,456.55 L722.32,457.67 L723.43,458.78 L724.53,459.90 L725.63,461.02 L726.74,462.15 L727.84,463.28 L728.95,464.41 L730.05,465.54 L731.16,466.68 L732.26,467.82 L733.37,468.96 L734.48,470.11 L735.58,471.26 L736.68,472.41 L737.79,473.56 L738.90,474.72 L740.00,475.88" stroke="#0000ff" stroke-dasharray="12.30,7.38,2.46,7.38,12.30,7.38"/>
</g>
<g stroke="#000" fill="none" stroke-linecap="butt">
<rect x="77.00" y="11.25" width="663.00" height="464.63" stroke-width="1.8"/>
<line x1="187.50" y1="475.88" x2="187.50" y2="469.38" stroke-width="1.6"/>
<line x1="187.50" y1="11.25" x2="187.50" y2="17.75" stroke-width="1.6"/>
<line x1="298.00" y1="475.88" x2="298.00" y2="462.58" stroke-width="1.85"/>
<line x1="298.00" y1="11.25" x2="298.00" y2="24.55" stroke-width="1.85"/>
<line x1="408.50" y1="475.88" x2="408.50" y2="469.38" stroke-width="1.6"/>
<line x1="408.50" y1="11.25" x2="408.50" y2="17.75" stroke-width="1.6"/>
<line x1="519.00" y1="475.88" x2="519.00" y2="462.58" stroke-width="1.85"/>
<line x1="519.00" y1="11.25" x2="519.00" y2="24.55" stroke-width="1.85"/>
<line x1="629.50" y1="475.88" x2="629.50" y2="469.38" stroke-width="1.6"/>
<line x1="629.50" y1="11.25" x2="629.50" y2="17.75" stroke-width="1.6"/>
<line x1="77.00" y1="417.80" x2="83.50" y2="417.80" stroke-width="1.6"/>
<line x1="740.00" y1="417.80" x2="733.50" y2="417.80" stroke-width="1.6"/>
<line x1="77.00" y1="359.72" x2="90.30" y2="359.72" stroke-width="1.85"/>
<line x1="740.00" y1="359.72" x2="726.70" y2="359.72" stroke-width="1.85"/>
<line x1="77.00" y1="301.64" x2="83.50" y2="301.64" stroke-width="1.6"/>
<line x1="740.00" y1="301.64" x2="733.50" y2="301.64" stroke-width="1.6"/>
<line x1="77.00" y1="243.56" x2="90.30" y2="243.56" stroke-width="1.85"/>
<line x1="740.00" y1="243.56" x2="726.70" y2="243.56" stroke-width="1.85"/>
<line x1="77.00" y1="185.49" x2="83.50" y2="185.49" stroke-width="1.6"/>
<line x1="740.00" y1="185.49" x2="733.50" y2="185.49" stroke-width="1.6"/>
<line x1="77.00" y1="127.41" x2="90.30" y2="127.41" stroke-width="1.85"/>
<line x1="740.00" y1="127.41" x2="726.70" y2="127.41" stroke-width="1.85"/>
<line x1="77.00" y1="69.33" x2="83.50" y2="69.33" stroke-width="1.6"/>
<line x1="740.00" y1="69.33" x2="733.50" y2="69.33" stroke-width="1.6"/>
</g>
<text font-size="30" transform="matrix(1.1142 0.001 -0.001 1.0487 55.43 21.60)">2</text>
<text font-size="30" transform="matrix(0.9557 0.001 -0.001 1.0480 35.28 137.45)">1.5</text>
<text font-size="30" transform="matrix(0.8521 0.001 -0.001 1.0452 58.95 253.90)">1</text>
<text font-size="30" transform="matrix(0.9976 0.001 -0.001 1.0404 33.76 369.76)">0.5</text>
<text font-size="30" transform="matrix(1.0853 0.001 -0.001 1.0373 55.36 486.20)">0</text>
<text font-size="30" transform="matrix(1.1011 0.001 -0.001 1.0225 68.84 503.30)">0</text>
<text font-size="30" transform="matrix(0.8664 0.001 -0.001 1.0553 292.57 502.80)">1</text>
<text font-size="30" transform="matrix(1.1267 0.001 -0.001 1.0371 511.11 502.80)">2</text>
<text font-size="30" transform="matrix(1.0300 0.001 -0.001 1.0369 733.62 503.10)">3</text>
<text font-size="30" transform="translate(22.01 327.27) rotate(-89.95) scale(1.0087 1.0333)">Drude weight</text>
<path d="M371.90,530.70 L390.10,530.70 L381.50,510.40 Z M374.30,528.90 L385.70,528.90 L380.45,515.90 Z" fill="#000" fill-rule="evenodd"/>
<text font-size="21" stroke="#000" stroke-width="0.22" stroke-linejoin="round" transform="matrix(1.0156 0.001 -0.001 1.0375 390.33 543.70)">z</text>
<text font-size="30" stroke="#000" stroke-width="0.8" stroke-linejoin="round" transform="matrix(0.7798 0.001 -0.001 1.0016 400.20 530.81)">/</text>
<path d="M408.80,530.70 L427.00,530.70 L418.40,510.40 Z M411.20,528.90 L422.60,528.90 L417.35,515.90 Z" fill="#000" fill-rule="evenodd"/>
<text font-size="21" stroke="#000" stroke-width="0.22" stroke-linejoin="round" transform="matrix(1.0405 0.001 -0.001 1.0396 426.90 543.89)">so</text>
<path transform="translate(526 74) scale(0.05149)" fill="#000" d="M105,120 L150,120 L150,280 C152,312 178,320 205,317 C228,314 245,302 255,288 L255,120 L295,120 L295,305 C295,335 312,338 335,316 L348,326 C335,350 305,372 272,352 C262,345 257,339 255,334 C240,354 220,368 195,368 C175,368 160,360 148,348 C146,362 138,378 138,392 C140,405 150,420 146,442 C142,462 112,472 98,456 C86,440 92,418 102,404 C112,390 114,372 108,348 L105,345 Z"/>
<text font-size="24" stroke="#000" stroke-width="0.6" stroke-linejoin="round" transform="matrix(0.8698 0.001 -0.001 1.0153 544.50 92.76)">/</text>
<path d="M551.70,92.30 L567.08,92.30 L559.81,75.15 Z M553.73,90.78 L563.36,90.78 L558.92,79.79 Z" fill="#000" fill-rule="evenodd"/>
<text font-size="17" stroke="#000" stroke-width="0.2" stroke-linejoin="round" transform="matrix(1.1110 0.001 -0.001 1.1374 566.23 102.81)">so</text>
<g fill="none" stroke-width="2.70" stroke-linecap="butt">
<path d="M493.65,119.15 L560.00,119.15" stroke="#0000ff" stroke-dasharray="12.42,7.46,2.48,7.46,12.42,7.46"/>
<path d="M493.65,142.10 L560.00,142.10" stroke="#00ff00" stroke-dasharray="2.48,7.46,12.42,7.46"/>
<path d="M493.65,165.40 L560.00,165.40" stroke="#ff0000" stroke-dasharray="12.42,7.46"/>
<path d="M493.65,188.80 L560.00,188.80" stroke="#000000"/>
</g>
<text font-size="24" transform="matrix(1.0237 0.001 -0.001 0.9601 572.94 126.32)">1.00</text>
<text font-size="24" transform="matrix(1.0112 0.001 -0.001 0.9815 572.88 149.87)">0.75</text>
<text font-size="24" transform="matrix(1.0156 0.001 -0.001 0.9938 572.87 173.06)">0.50</text>
<text font-size="24" transform="matrix(1.0112 0.001 -0.001 0.9877 572.88 195.86)">0.25</text>
</svg></body></html>
